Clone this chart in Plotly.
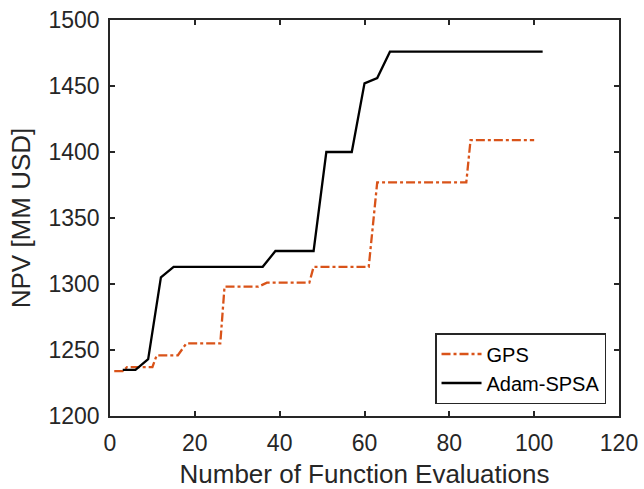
import plotly.graph_objects as go

gps_x = [1, 3, 4, 10, 11, 16, 18, 26, 27, 35, 37, 47, 48, 61, 63, 84, 85, 100]
gps_y = [1234, 1234, 1237, 1237, 1246, 1246, 1255, 1255, 1298, 1298, 1301, 1301, 1313, 1313, 1377, 1377, 1409, 1409]

adam_x = [3, 6, 9, 12, 15, 36, 39, 48, 51, 57, 60, 63, 66, 102]
adam_y = [1235, 1235, 1243, 1305, 1313, 1313, 1325, 1325, 1400, 1400, 1452, 1456, 1476, 1476]

x_ticks = [0, 20, 40, 60, 80, 100, 120]
y_ticks = [1200, 1250, 1300, 1350, 1400, 1450, 1500]

FONT = "Liberation Sans, Arial, sans-serif"
AX = "#262626"

fig = go.Figure()
fig.add_trace(go.Scatter(x=gps_x, y=gps_y, mode="lines", name="GPS",
                         line=dict(color="#D95319", width=2.3, dash="9px,3px,3px,3px")))
fig.add_trace(go.Scatter(x=adam_x, y=adam_y, mode="lines", name="Adam-SPSA",
                         line=dict(color="#000000", width=2.3)))

axis_common = dict(showgrid=False, zeroline=False, showline=True, linecolor=AX, linewidth=1.5,
                   mirror="ticks", ticks="inside", ticklen=5, tickwidth=1.5, tickcolor=AX,
                   automargin=False,
                   tickfont=dict(family=FONT, size=23, color="#262626"))

fig.update_layout(
    width=644, height=489,
    margin=dict(l=110, r=25, t=20, b=73),
    paper_bgcolor="white", plot_bgcolor="white",
    font=dict(family=FONT, color="#262626"),
    xaxis=dict(range=[0, 120], tickvals=x_ticks, ticklabelstandoff=6,
               title=dict(text="Number of Function Evaluations", font=dict(family=FONT, size=26), standoff=13),
               **axis_common),
    yaxis=dict(range=[1200, 1500], tickvals=y_ticks, ticklabelstandoff=4,
               title=dict(text="NPV [MM USD]", font=dict(family=FONT, size=26), standoff=10),
               **axis_common),
    legend=dict(x=0.9745, y=0.0303, xanchor="right", yanchor="bottom",
                bgcolor="white", bordercolor="#262626", borderwidth=1.5,
                font=dict(family=FONT, size=20, color="#000000"),
                tracegroupgap=0, itemwidth=40),
    showlegend=True,
)

fig.write_html("out.html")
